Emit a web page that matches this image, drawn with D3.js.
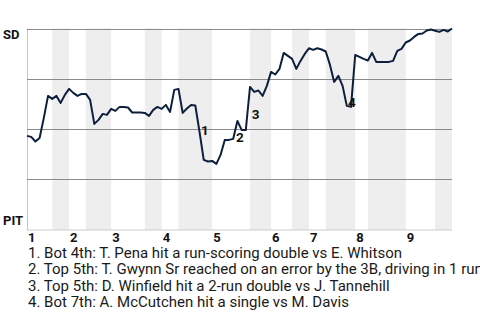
<!DOCTYPE html>
<html>
<head>
<meta charset="utf-8">
<script src="https://cdn.jsdelivr.net/npm/d3@7"></script>
<style>
    body { margin: 0; background: #fff; }
    svg { display: block; font-family: Roboto, "Open Sans", sans-serif; }
</style>
</head>
<body>
<svg id="chart" width="480" height="320"></svg>
<script>
// SD win probability (%) after each play
const winProb = [
    46.3, 45.8, 43.5, 45.3, 55.3, 66.3, 64.8, 66.3, 62.8, 66.8,
    69.8, 67.8, 66.3, 67.3, 67.3, 64.3, 52.3, 54.3, 57.3, 56.8,
    59.8, 58.8, 60.8, 60.8, 60.5, 58.0, 58.0, 58.0, 57.8, 56.3,
    59.3, 60.8, 59.8, 61.8, 58.3, 69.3, 69.8, 57.8, 60.0, 61.8,
    61.5, 48.3, 34.3, 33.5, 33.8, 32.3, 36.8, 44.3, 44.3, 44.8,
    53.8, 49.3, 49.3, 70.8, 68.3, 69.0, 66.3, 71.3, 78.3, 77.0,
    79.8, 87.8, 86.3, 84.8, 79.8, 83.8, 87.3, 90.1, 89.3, 90.1,
    89.5, 88.5, 81.8, 73.3, 76.3, 71.3, 61.3, 60.8, 86.8, 85.8,
    84.8, 84.0, 87.8, 83.3, 83.3, 83.3, 83.3, 83.8, 88.8, 89.8,
    93.0, 94.0, 95.8, 97.3, 97.5, 99.0, 99.5, 98.9, 98.3, 99.3,
    98.5, 100.0
];

// plays per half inning: top 1, bot 1, top 2, ...
const halfInningPlays = [6, 4, 4, 6, 8, 4, 4, 8, 9, 5, 5, 4, 4, 7, 3, 9, 7, 4];
const innings = ["1", "2", "3", "4", "5", "6", "7", "8", "9"];
const teams = ["SD", "PIT"];
const gridValues = [25, 50, 75, 100];

const eventPlays = [41, 50, 53, 76];
const eventNotes = [
    "1. Bot 4th: T. Pena hit a run-scoring double vs E. Whitson",
    "2. Top 5th: T. Gwynn Sr reached on an error by the 3B, driving in 1 run",
    "3. Top 5th: D. Winfield hit a 2-run double vs J. Tannehill",
    "4. Bot 7th: A. McCutchen hit a single vs M. Davis"
];

// label nudges from the play point, layout only
const labelNudge = [[1.5, 3.5], [-1.4, 20.7], [1.7, 32], [1.2, 1.3]];

const svg = d3.select("#chart");
const plot = { left: 27, right: 452, top: 28.5, bottom: 228.5 };
const lineColor = "#0d1f3c";

const totalPlays = d3.sum(halfInningPlays);
const x = d3.scaleLinear().domain([0, totalPlays]).range([plot.left, plot.right]);
const y = d3.scaleLinear().domain([0, 100]).range([plot.bottom, plot.top]);

// half inning start/end in play index
let bounds = [];
let acc = 0;
halfInningPlays.forEach(function (n, i) {
    bounds.push({ start: acc, end: acc + n, half: i % 2 === 0 ? "top" : "bot", inning: Math.floor(i / 2) });
    acc += n;
});

// shaded bottom halves
svg.append("g").selectAll("rect")
    .data(bounds.filter(d => d.half === "bot"))
    .join("rect")
    .attr("x", d => x(d.start))
    .attr("width", d => x(d.end) - x(d.start))
    .attr("y", y(100))
    .attr("height", y(0) - y(100) + 1.5)
    .attr("fill", "#eeeeee");

// frame, left and bottom
svg.append("line")
    .attr("x1", x(0) + 0.5).attr("x2", x(0) + 0.5)
    .attr("y1", y(100)).attr("y2", y(0) + 2)
    .attr("stroke", "#c4c4c4");
svg.append("line")
    .attr("x1", x(0)).attr("x2", x(totalPlays))
    .attr("y1", y(0) + 1.5).attr("y2", y(0) + 1.5)
    .attr("stroke", "#cccccc");

// horizontal grid
svg.append("g").selectAll("line")
    .data(gridValues)
    .join("line")
    .attr("x1", x(0)).attr("x2", x(totalPlays))
    .attr("y1", d => Math.round(y(d)) + 0.5)
    .attr("y2", d => Math.round(y(d)) + 0.5)
    .attr("stroke", "#8a8a8a");

// win probability line
const line = d3.line()
    .x((d, i) => x(i))
    .y(d => y(d));

svg.append("path")
    .datum(winProb)
    .attr("d", line)
    .attr("fill", "none")
    .attr("stroke", lineColor)
    .attr("stroke-width", 2)
    .attr("stroke-linejoin", "round");

// event markers
svg.append("g").selectAll("text")
    .data(eventPlays)
    .join("text")
    .attr("x", (d, i) => x(d) + labelNudge[i][0])
    .attr("y", (d, i) => y(winProb[d]) + labelNudge[i][1])
    .attr("font-size", 13.5)
    .attr("font-weight", "bold")
    .attr("fill", "#111")
    .text((d, i) => i + 1);

// team labels
svg.append("text")
    .attr("x", 3).attr("y", y(100) + 10)
    .attr("font-size", 13).attr("font-weight", "bold").attr("fill", "#111")
    .text(teams[0]);
svg.append("text")
    .attr("x", 3).attr("y", y(0) - 3.5)
    .attr("font-size", 13).attr("font-weight", "bold").attr("fill", "#111")
    .text(teams[1]);

// inning numbers at start of each top half
svg.append("g").selectAll("text")
    .data(bounds.filter(d => d.half === "top"))
    .join("text")
    .attr("x", d => x(d.start) + 1)
    .attr("y", 242)
    .attr("font-size", 13)
    .attr("font-weight", "bold")
    .attr("fill", "#111")
    .text(d => innings[d.inning]);

// notes under the chart
svg.append("g").selectAll("text")
    .data(eventNotes)
    .join("text")
    .attr("x", 28)
    .attr("y", (d, i) => 258 + i * 16.3)
    .attr("font-size", 15)
    .attr("fill", "#1a1a1a")
    .text(d => d);
</script>
</body>
</html>
